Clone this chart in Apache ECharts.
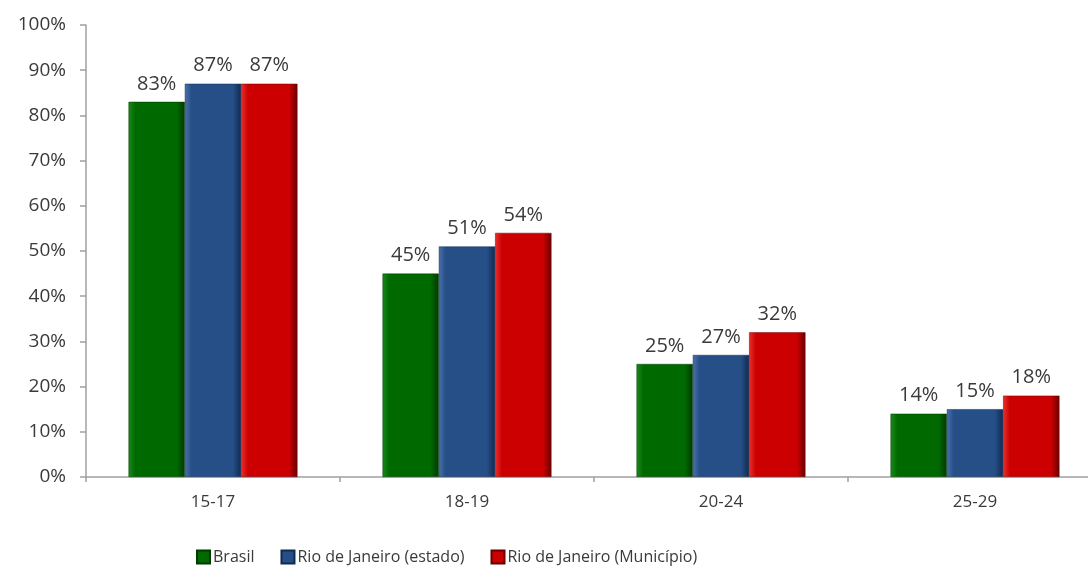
<!DOCTYPE html>
<html><head><meta charset="utf-8">
<script src="https://cdn.jsdelivr.net/npm/echarts@6/dist/echarts.min.js"></script>
<style>html,body{margin:0;padding:0;background:#fff}#c{width:1088px;height:569px}</style>
</head><body><div id="c"></div>
<script>
const categories = ['15-17', '18-19', '20-24', '25-29'];
const brasil = [83, 45, 25, 14];
const rjEstado = [87, 51, 27, 15];
const rjMunicipio = [87, 54, 32, 18];
const seriesNames = ['Brasil', 'Rio de Janeiro (estado)', 'Rio de Janeiro (Município)'];

function grad(light, mid, dark) {
  return new echarts.graphic.LinearGradient(0, 0, 1, 0, [
    {offset: 0, color: light}, {offset: 0.12, color: mid},
    {offset: 0.85, color: mid}, {offset: 1, color: dark}
  ]);
}
const font = '"Open Sans", "Noto Sans", sans-serif';
const txt = '#3a3a3a';
const chart = echarts.init(document.getElementById('c'));
function mk(name, data, light, mid, dark) {
  return {
    name, type: 'bar', data, barGap: '0%', barCategoryGap: '33.5%',
    itemStyle: {color: grad(light, mid, dark), borderColor: dark, borderWidth: 0.5},
    label: {show: true, position: 'top', formatter: '{c}%', color: txt,
      fontSize: 20, fontFamily: font, distance: 8}
  };
}
chart.setOption({
  animation: false,
  grid: {left: 86, width: 1016, top: 25, bottom: 92, outerBoundsMode: 'none', containLabel: false},
  legend: {top: 549, left: 196, itemWidth: 13, itemHeight: 13, itemGap: 26,
    icon: 'rect', selectedMode: false, padding: 0,
    textStyle: {fontSize: 16, color: txt, fontFamily: font, padding: [0, 0, 0, -2]},
    data: seriesNames},
  xAxis: {type: 'category', data: categories,
    axisLine: {lineStyle: {color: '#a0a0a0', width: 1.5}},
    axisTick: {show: true, alignWithLabel: false, length: 5, lineStyle: {color: '#a0a0a0', width: 1.5}},
    axisLabel: {color: txt, fontSize: 17, fontFamily: font, margin: 17}},
  yAxis: {type: 'value', min: 0, max: 100, interval: 10,
    axisLine: {show: true, lineStyle: {color: '#a0a0a0', width: 1.5}},
    axisTick: {show: true, length: 6, lineStyle: {color: '#a0a0a0', width: 1.5}},
    splitLine: {show: false},
    axisLabel: {formatter: '{value}%', color: txt, fontSize: 19, fontFamily: font, margin: 20}},
  series: [
    mk(seriesNames[0], brasil, '#1a8a1a', '#006a00', '#003a00'),
    mk(seriesNames[1], rjEstado, '#4a72aa', '#264f88', '#102a50'),
    mk(seriesNames[2], rjMunicipio, '#e83030', '#cc0000', '#6a0000')
  ]
});
</script></body></html>
